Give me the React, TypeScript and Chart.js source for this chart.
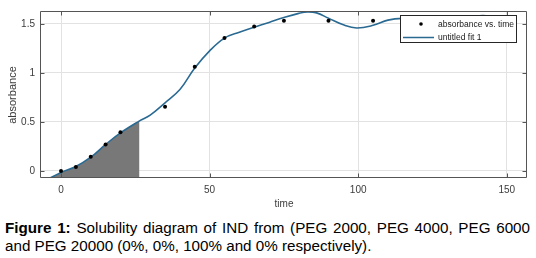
import React, { useEffect, useRef } from "react";
import { Chart, registerables } from "chart.js";

Chart.register(...registerables);

// ---- data ----
const timeValues = [0, 5, 10, 15, 20, 35, 45, 55, 65, 75, 90, 105, 120, 135];
const absorbanceValues = [0, 0.04, 0.145, 0.27, 0.395, 0.655, 1.063, 1.355, 1.474, 1.533, 1.533, 1.533, 1.543, 1.55];

const fitTime = [-4.5, 0, 5, 10, 15, 20, 26.4, 30, 35, 40, 45, 50, 55, 60, 65, 70, 75, 80, 83, 86, 90, 95, 99.5, 105, 110, 115, 120, 126, 130, 135, 140, 143, 147, 150];
const fitAbsorbance = [-0.085, -0.015, 0.045, 0.14, 0.27, 0.388, 0.51, 0.57, 0.695, 0.83, 1.05, 1.225, 1.355, 1.415, 1.465, 1.515, 1.565, 1.607, 1.622, 1.612, 1.558, 1.49, 1.458, 1.485, 1.538, 1.556, 1.546, 1.532, 1.54, 1.563, 1.58, 1.582, 1.545, 1.48];

const shadeEndTime = 26.4;

const xTicks = [0, 50, 100, 150];
const yTicks = [0, 0.5, 1, 1.5];
const xMin = -6.74;
const xMax = 156.8;
const yMin = -0.072;
const yMax = 1.621;

const legendLabels = ["absorbance vs. time", "untitled fit 1"];
const xTitle = "time";
const yTitle = "absorbance";

const FONT = '"Liberation Sans", Arial, Helvetica, sans-serif';
const AXIS_COLOR = "#3c3c3c";
const BOX_COLOR = "#555555";
const FIT_COLOR = "#2a6a92";

export default function App() {
  const ref = useRef<HTMLCanvasElement>(null);

  useEffect(() => {
    if (!ref.current) return;
    const points = timeValues.map((t, i) => ({ x: t, y: absorbanceValues[i] }));
    const fit = fitTime.map((t, i) => ({ x: t, y: fitAbsorbance[i] }));
    const shade = fit.filter((p) => p.x <= shadeEndTime);

    const boxPlugin = {
      id: "matlabBox",
      afterDraw(chart: any) {
        const ctx = chart.ctx as CanvasRenderingContext2D;
        const { left, right, top, bottom } = chart.chartArea;
        const xs = chart.scales.x;
        const ys = chart.scales.y;
        const L = Math.round(left) - 0.5;
        const R = Math.round(right) - 0.5;
        const T = Math.round(top) - 0.5;
        const B = Math.round(bottom) - 0.5;
        ctx.save();
        ctx.strokeStyle = BOX_COLOR;
        ctx.lineWidth = 1;
        ctx.beginPath();
        ctx.rect(L, T, R - L, B - T);
        const tl = 4;
        xTicks.forEach((v) => {
          const px = Math.round(xs.getPixelForValue(v)) + 0.5;
          ctx.moveTo(px, B);
          ctx.lineTo(px, B - tl);
          ctx.moveTo(px, T);
          ctx.lineTo(px, T + tl);
        });
        yTicks.forEach((v) => {
          const py = Math.round(ys.getPixelForValue(v)) + 0.5;
          ctx.moveTo(L, py);
          ctx.lineTo(L + tl, py);
          ctx.moveTo(R, py);
          ctx.lineTo(R - tl, py);
        });
        ctx.stroke();

        // legend box
        const lx = 400.5, ly = 15.5, lw = 116, lh = 27;
        ctx.fillStyle = "#ffffff";
        ctx.fillRect(lx, ly, lw, lh);
        ctx.strokeStyle = "#262626";
        ctx.strokeRect(lx, ly, lw, lh);
        // marker item
        ctx.fillStyle = "#000000";
        ctx.beginPath();
        ctx.arc(421, 24, 1.8, 0, Math.PI * 2);
        ctx.fill();
        // line item
        ctx.strokeStyle = FIT_COLOR;
        ctx.lineWidth = 1.5;
        ctx.beginPath();
        ctx.moveTo(403, 37.5);
        ctx.lineTo(434, 37.5);
        ctx.stroke();
        ctx.fillStyle = "#1a1a1a";
        ctx.font = `8.5px ${FONT}`;
        ctx.textBaseline = "middle";
        ctx.textAlign = "left";
        ctx.fillText(legendLabels[0], 438, 24.5);
        ctx.fillText(legendLabels[1], 438, 38);
        ctx.restore();
      },
    };

    const chart = new Chart(ref.current, {
      type: "line",
      data: {
        datasets: [
          {
            label: legendLabels[0],
            data: points,
            showLine: false,
            pointRadius: 2,
            pointHoverRadius: 2,
            pointBorderWidth: 0,
            pointBackgroundColor: "#000000",
            borderColor: "#000000",
            order: 0,
          } as any,
          {
            label: legendLabels[1],
            data: fit,
            borderColor: FIT_COLOR,
            borderWidth: 1.6,
            pointRadius: 0,
            tension: 0.4,
            fill: false,
            order: 1,
          },
          {
            label: "shade",
            data: shade,
            borderWidth: 0,
            borderColor: "rgba(0,0,0,0)",
            pointRadius: 0,
            tension: 0.4,
            backgroundColor: "#787878",
            fill: "start",
            order: 2,
          },
        ],
      },
      options: {
        animation: false,
        responsive: false,
        events: [],
        layout: { padding: { left: 0, top: 7, right: 9, bottom: 2 } },
        plugins: {
          legend: { display: false },
          tooltip: { enabled: false },
        },
        scales: {
          x: {
            type: "linear",
            min: xMin,
            max: xMax,
            afterBuildTicks: (s: any) => {
              s.ticks = xTicks.map((v) => ({ value: v }));
            },
            afterFit: (s: any) => {
              s.height = 32;
            },
            grid: { color: "#e2e2e2", drawTicks: false, lineWidth: 1 },
            border: { display: false },
            ticks: {
              padding: 6,
              maxRotation: 0,
              autoSkip: false,
              color: AXIS_COLOR,
              font: { family: FONT, size: 10 },
              callback: (v: any) => String(v),
            },
            title: {
              display: true,
              text: xTitle,
              padding: 0,
              color: AXIS_COLOR,
              font: { family: FONT, size: 10 },
            },
          },
          y: {
            type: "linear",
            min: yMin,
            max: yMax,
            afterBuildTicks: (s: any) => {
              s.ticks = yTicks.map((v) => ({ value: v }));
            },
            afterFit: (s: any) => {
              s.width = 41;
            },
            grid: { color: "#e2e2e2", drawTicks: false, lineWidth: 1 },
            border: { display: false },
            ticks: {
              padding: 6,
              autoSkip: false,
              color: AXIS_COLOR,
              font: { family: FONT, size: 10 },
              callback: (v: any) => String(v),
            },
            title: {
              display: true,
              text: yTitle,
              padding: { top: 6, bottom: 0 },
              color: AXIS_COLOR,
              font: { family: FONT, size: 11 },
            },
          },
        },
      },
      plugins: [boxPlugin],
    } as any);

    return () => chart.destroy();
  }, []);

  const captionStyle: React.CSSProperties = {
    position: "absolute",
    left: 5,
    fontFamily: FONT,
    fontSize: 15.2,
    lineHeight: "17.4px",
    color: "#000",
    whiteSpace: "nowrap",
  };

  return (
    <div style={{ position: "absolute", left: 0, top: 0, width: 536, height: 258, background: "#fff" }}>
      <canvas ref={ref} width={536} height={212} style={{ position: "absolute", left: 0, top: 0, width: 536, height: 212 }} />
      <div style={{ ...captionStyle, top: 219.4, width: 525, whiteSpace: "normal", textAlign: "justify", textAlignLast: "justify" }}>
        <b>Figure 1:</b> Solubility diagram of IND from (PEG 2000, PEG 4000, PEG 6000
      </div>
      <div style={{ ...captionStyle, top: 236.8 }}>
        and PEG 20000 (0%, 0%, 100% and 0% respectively).
      </div>
    </div>
  );
}
